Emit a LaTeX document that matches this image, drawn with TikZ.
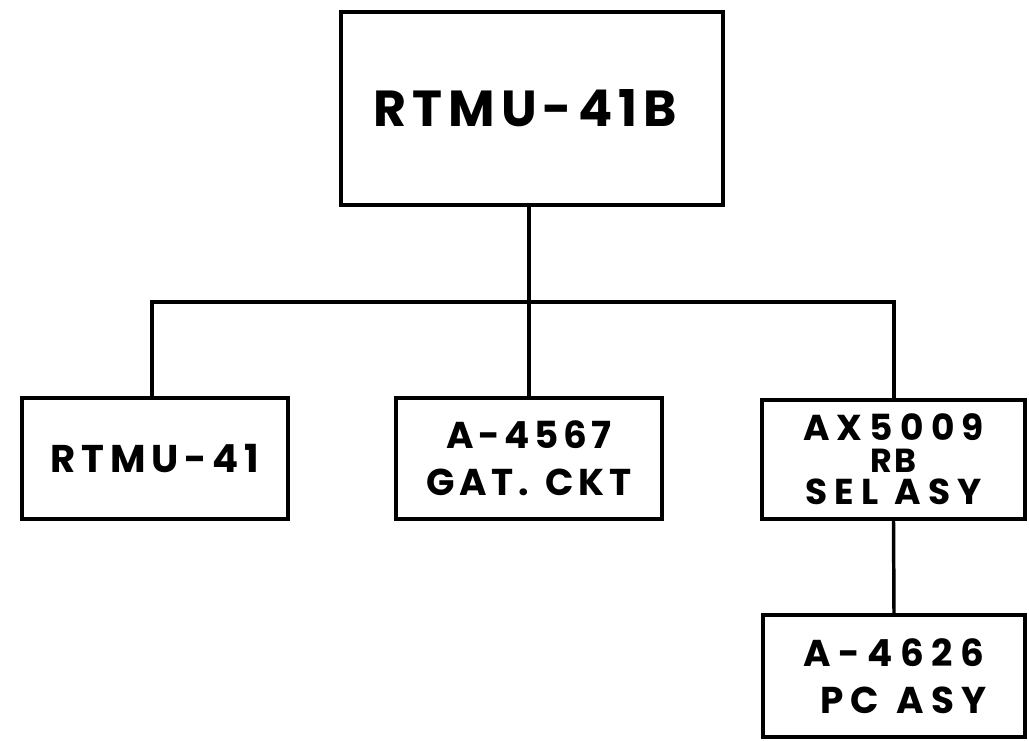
\documentclass[tikz,border=0pt]{standalone}
\usepackage{fontspec}
\setmainfont{Poppins}
\newcommand{\wsp}{\hspace{0.45em}}
\begin{document}
\begin{tikzpicture}[x=0.75pt,y=-0.75pt,
  box/.style={draw=black,line width=2.8pt,rectangle,inner sep=0pt,align=center,text=black},
  wire/.style={draw=black,line width=2.6pt}]
\useasboundingbox (0,0) rectangle (1029,740);
\node[box,minimum width=382*0.75pt,minimum height=193*0.75pt,
  font=\bfseries\addfontfeatures{LetterSpace=12}\fontsize{38}{44}\selectfont] (top) at (532,108.5) {\raisebox{-7pt}{RTMU-41B\hspace{10pt}}};
\node[box,minimum width=266*0.75pt,minimum height=121*0.75pt,
  font=\bfseries\addfontfeatures{LetterSpace=15}\fontsize{29}{35}\selectfont] (n1) at (155,458.5) {RTMU-41};
\node[box,minimum width=266*0.75pt,minimum height=121*0.75pt,
  font=\bfseries\addfontfeatures{LetterSpace=12}\fontsize{28}{35}\selectfont] (n2) at (529,458.5) {A-4567\\GAT.\wsp CKT};
\node[box,minimum width=263*0.75pt,minimum height=119*0.75pt,
  font=\bfseries\addfontfeatures{LetterSpace=20}\fontsize{27}{24}\selectfont] (n3) at (893.5,459.5) {AX5009\\{\addfontfeatures{LetterSpace=5}\fontsize{25}{24}\selectfont RB}\\SEL\wsp ASY};
\node[box,minimum width=262*0.75pt,minimum height=122*0.75pt,
  font=\bfseries\addfontfeatures{LetterSpace=20}\fontsize{28}{35}\selectfont] (n4) at (894,676) {A-4626\\\hspace{14pt}PC\wsp ASY};
\coordinate (busL) at (152,302);
\coordinate (busR) at (894,302);
\draw[wire] (n1.north -| busL) -- (busL) -- (busR) -- (n3.north -| busR);
\draw[wire] (top.south -| n2.north) -- (n2.north);
\draw[wire] (n3.south) -- (n4.north);
\end{tikzpicture}
\end{document}
